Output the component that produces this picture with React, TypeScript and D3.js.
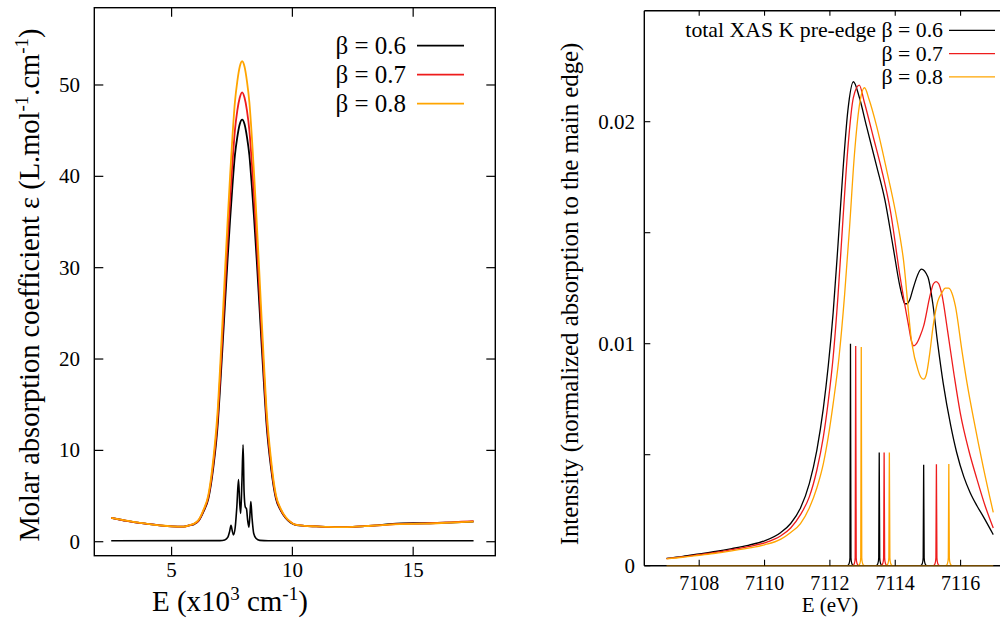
import React from "react";
import * as d3 from "d3";

// ---------- Left panel data (E in 10^3 cm^-1, epsilon) ----------
const leftE = [2.5, 3.0, 3.5, 4.0, 4.5, 5.0, 5.5, 5.72, 5.92, 6.12, 6.32, 6.52, 6.72, 6.92,
  7.02, 7.12, 7.22, 7.32, 7.42, 7.52, 7.62, 7.72, 7.82, 7.92, 8.02, 8.12, 8.22, 8.32, 8.42, 8.52, 8.62, 8.72, 8.82, 8.92,
  9.12, 9.32, 9.52, 9.72, 9.92, 10.12,
  10.5, 11, 11.5, 12, 12.5, 13, 13.5, 14, 14.5, 15, 15.5, 16, 16.5, 17, 17.5];
const leftB06 = [2.6, 2.35, 2.12, 1.95, 1.8, 1.68, 1.65, 1.78, 1.9, 2.3, 3.3, 4.7, 8.0, 13.2,
  17.4, 21.9, 26.5, 31.0, 35.2, 39.0, 42.3, 44.3, 45.7, 46.2, 45.7, 44.3, 42.3, 39.0, 35.2, 31.0, 26.5, 21.9, 17.4, 13.2,
  8.0, 4.7, 3.4, 2.6, 2.1, 1.85,
  1.74, 1.68, 1.62, 1.6, 1.62, 1.7, 1.8, 1.92, 2.0, 2.02, 2.02, 2.05, 2.1, 2.15, 2.2];
const leftB07 = [2.6, 2.35, 2.12, 1.95, 1.8, 1.68, 1.65, 1.79, 1.95, 2.34, 3.4, 4.9, 8.4, 14.0,
  18.5, 23.3, 28.2, 33.0, 37.4, 41.5, 45.0, 47.2, 48.6, 49.2, 48.6, 47.2, 45.0, 41.5, 37.4, 33.0, 28.2, 23.3, 18.5, 14.0,
  8.4, 4.9, 3.5, 2.65, 2.15, 1.86,
  1.74, 1.68, 1.62, 1.6, 1.62, 1.7, 1.78, 1.88, 1.95, 1.98, 2.0, 2.05, 2.12, 2.2, 2.25];
const leftB08 = [2.62, 2.37, 2.14, 1.96, 1.8, 1.68, 1.65, 1.8, 1.97, 2.4, 3.5, 5.1, 8.9, 14.9,
  19.7, 24.8, 30.1, 35.2, 40.0, 44.4, 48.1, 50.4, 52.0, 52.6, 52.0, 50.4, 48.1, 44.4, 40.0, 35.2, 30.1, 24.8, 19.7, 14.9,
  8.9, 5.1, 3.6, 2.7, 2.17, 1.87,
  1.74, 1.68, 1.62, 1.6, 1.62, 1.7, 1.78, 1.88, 1.93, 1.96, 1.98, 2.02, 2.08, 2.15, 2.2];
const spikeE = [2.5, 7.0, 7.2, 7.33, 7.4, 7.46, 7.51, 7.56, 7.63, 7.7, 7.77, 7.82, 7.86, 7.91, 7.96, 8.0, 8.05, 8.1, 8.15, 8.2, 8.24, 8.28, 8.33, 8.4, 8.5, 8.65, 9.0, 17.5];
const spikeV = [0.1, 0.12, 0.2, 0.5, 1.1, 1.8, 1.2, 0.75, 1.5, 3.8, 6.8, 4.2, 3.1, 6.5, 10.6, 5.5, 3.8, 3.6, 2.3, 1.6, 2.8, 4.4, 2.6, 0.9, 0.35, 0.15, 0.1, 0.1];
const leftXTicks = [5, 10, 15];
const leftYTicks = [0, 10, 20, 30, 40, 50];
const leftLabels = ["β = 0.6", "β = 0.7", "β = 0.8"];

// ---------- Right panel data (E in eV, intensity) ----------
const r06E = [7107, 7107.5, 7108, 7108.5, 7109, 7109.5, 7110, 7110.5, 7110.8, 7111.1, 7111.37, 7111.6, 7111.8, 7111.95, 7112.1, 7112.25, 7112.4, 7112.55, 7112.72, 7112.9, 7113.12, 7113.43, 7113.68, 7113.93, 7114.14, 7114.22, 7114.29, 7114.36, 7114.45, 7114.55, 7114.8, 7115.0, 7115.15, 7115.3, 7115.47, 7115.7, 7115.88, 7116.1, 7116.29, 7116.5, 7116.7, 7117];
const r06V = [0.00033, 0.00042, 0.00053, 0.00064, 0.00077, 0.00092, 0.00112, 0.0015, 0.0019, 0.0026, 0.0037, 0.0052, 0.0071, 0.009, 0.0114, 0.0145, 0.0178, 0.0205, 0.0218, 0.0211, 0.0198, 0.018, 0.0165, 0.0144, 0.0126, 0.0121, 0.0118, 0.0118, 0.012, 0.0125, 0.01336, 0.013, 0.0118, 0.01, 0.0082, 0.0063, 0.0051, 0.004, 0.0033, 0.0027, 0.0022, 0.0014];
const r07E = [7107, 7107.5, 7108, 7108.5, 7109, 7109.5, 7110, 7110.5, 7110.8, 7111.1, 7111.37, 7111.6, 7111.8, 7111.95, 7112.1, 7112.25, 7112.4, 7112.55, 7112.72, 7112.9, 7113.05, 7113.33, 7113.59, 7113.85, 7114.15, 7114.41, 7114.5, 7114.57, 7114.65, 7114.75, 7114.87, 7115.07, 7115.17, 7115.25, 7115.33, 7115.43, 7115.6, 7115.8, 7116.0, 7116.25, 7116.5, 7116.75, 7117];
const r07V = [0.00032, 0.0004, 0.0005, 0.0006, 0.00072, 0.00086, 0.00103, 0.00135, 0.0017, 0.0023, 0.0031, 0.0043, 0.0058, 0.0074, 0.0094, 0.0122, 0.0156, 0.0188, 0.0211, 0.02165, 0.0209, 0.0193, 0.0178, 0.016, 0.013, 0.0108, 0.0101, 0.0099, 0.01, 0.0103, 0.0108, 0.0122, 0.0127, 0.0128, 0.0127, 0.0122, 0.0106, 0.0086, 0.0068, 0.0052, 0.0039, 0.0027, 0.0017];
const r08E = [7107, 7107.5, 7108, 7108.5, 7109, 7109.5, 7110, 7110.5, 7110.8, 7111.1, 7111.37, 7111.6, 7111.8, 7111.95, 7112.1, 7112.28, 7112.45, 7112.6, 7112.75, 7112.9, 7113.06, 7113.2, 7113.43, 7113.74, 7114.0, 7114.25, 7114.51, 7114.7, 7114.78, 7114.87, 7114.95, 7115.05, 7115.16, 7115.3, 7115.43, 7115.53, 7115.63, 7115.73, 7115.84, 7116.04, 7116.2, 7116.4, 7116.7, 7117];
const r08V = [0.00031, 0.00038, 0.00047, 0.00056, 0.00067, 0.00079, 0.00094, 0.0012, 0.0015, 0.0019, 0.0026, 0.0035, 0.0046, 0.0058, 0.0073, 0.0094, 0.0122, 0.0152, 0.0185, 0.0207, 0.02153, 0.021, 0.0198, 0.0178, 0.016, 0.0138, 0.01, 0.0088, 0.0085, 0.0084, 0.0086, 0.0095, 0.0108, 0.0119, 0.0123, 0.0125, 0.0125, 0.0123, 0.0117, 0.0097, 0.0082, 0.0066, 0.0044, 0.0024];
const stick06E = [7112.63, 7113.51, 7114.87];
const stick06V = [0.0100, 0.0051, 0.00455];
const stick07E = [7112.79, 7113.66, 7115.26];
const stick07V = [0.0099, 0.0051, 0.00457];
const stick08E = [7112.96, 7113.82, 7115.64];
const stick08V = [0.00985, 0.0051, 0.00458];
const rightXTicks = [7108, 7110, 7112, 7114, 7116];
const rightYTicks = [0, 0.005, 0.01, 0.015, 0.02];
const rightYLabels = ["0", "", "0.01", "", "0.02"];
const rightLabels = ["total XAS K pre-edge β = 0.6", "β = 0.7", "β = 0.8"];

const COLORS = ["#000000", "#ee1c1c", "#ffa500"];
const FONT = "'Liberation Serif', 'DejaVu Serif', serif";

function zip(xs: number[], ys: number[]): [number, number][] {
  return xs.map((x, i) => [x, ys[i]]);
}

export default function App() {
  const lx = d3.scaleLinear().domain([1.8, 18.4]).range([94.3, 495.3]);
  const ly = d3.scaleLinear().domain([-1.53, 58.46]).range([555.7, 7.7]);
  const lline = d3.line<[number, number]>().x((d) => lx(d[0])).y((d) => ly(d[1])).curve(d3.curveMonotoneX);
  const leftSeries = [leftB06, leftB07, leftB08];

  const rx = d3.scaleLinear().domain([7106.32, 7117.5]).range([644.3, 1009.6]);
  const ry = d3.scaleLinear().domain([0, 0.025]).range([565.7, 10.7]);
  const rline = d3.line<[number, number]>().x((d) => rx(d[0])).y((d) => ry(d[1])).curve(d3.curveMonotoneX);
  const rightSeries = [zip(r06E, r06V), zip(r07E, r07V), zip(r08E, r08V)];
  const sticks = [zip(stick06E, stick06V), zip(stick07E, stick07V), zip(stick08E, stick08V)];

  const lTop = ly.range()[1], lBot = ly.range()[0], lLeft = lx.range()[0], lRight = lx.range()[1];
  const rTop = ry.range()[1], rBot = ry.range()[0], rLeft = rx.range()[0], rRight = rx.range()[1];

  return (
    <svg width={1000} height={618} style={{ position: "absolute", left: 0, top: 0, background: "#fff" }} fontFamily={FONT}>
      <rect x={0} y={0} width={1000} height={618} fill="#fff" />
      <g>
        {leftSeries.map((s, i) => (
          <path key={i} d={lline(zip(leftE, s)) || ""} fill="none" stroke={COLORS[i]} strokeWidth={1.8} />
        ))}
        <path d={lline(zip(spikeE, spikeV)) || ""} fill="none" stroke={COLORS[0]} strokeWidth={1.6} />
        <rect x={lLeft} y={lTop} width={lRight - lLeft} height={lBot - lTop} fill="none" stroke="#000" strokeWidth={1.4} />
        {leftXTicks.map((t) => (
          <g key={t}>
            <line x1={lx(t)} x2={lx(t)} y1={lBot} y2={lBot - 9} stroke="#000" strokeWidth={1.2} />
            <line x1={lx(t)} x2={lx(t)} y1={lTop} y2={lTop + 9} stroke="#000" strokeWidth={1.2} />
            <text x={lx(t)} y={577} textAnchor="middle" fontSize={21}>{t}</text>
          </g>
        ))}
        {leftYTicks.map((t) => (
          <g key={t}>
            <line x1={lLeft} x2={lLeft + 9} y1={ly(t)} y2={ly(t)} stroke="#000" strokeWidth={1.2} />
            <line x1={lRight} x2={lRight - 9} y1={ly(t)} y2={ly(t)} stroke="#000" strokeWidth={1.2} />
            <text x={80} y={ly(t) + 7} textAnchor="end" fontSize={21}>{t}</text>
          </g>
        ))}
        <text x={152} y={611} fontSize={29}>
          E (x10<tspan dy={-11} fontSize={19}>3</tspan><tspan dy={11}> cm</tspan><tspan dy={-11} fontSize={19}>-1</tspan><tspan dy={11}>)</tspan>
        </text>
        <text transform={`translate(39,285) rotate(-90)`} textAnchor="middle" fontSize={28.5}>
          Molar absorption coefficient ε (L.mol<tspan dy={-11} fontSize={19}>-1</tspan><tspan dy={11}>.cm</tspan><tspan dy={-11} fontSize={19}>-1</tspan><tspan dy={11}>)</tspan>
        </text>
        {leftLabels.map((lab, i) => {
          const y = 45.7 + i * 29;
          return (
            <g key={lab}>
              <text x={406} y={y + 8} textAnchor="end" fontSize={25}>{lab}</text>
              <line x1={417} x2={464} y1={y} y2={y} stroke={COLORS[i]} strokeWidth={1.8} />
            </g>
          );
        })}
      </g>

      <g>
        {rightSeries.map((s, i) => (
          <path key={i} d={rline(s) || ""} fill="none" stroke={COLORS[i]} strokeWidth={1.3} />
        ))}
        {sticks.map((s, i) => (
          <g key={i}>
            {s.map(([e, v], j) => {
              const x = rx(e);
              const yTop = ry(v);
              return (
                <path key={j}
                  d={`M${x - 3},${rBot} Q${x - 0.8},${rBot - 1} ${x - 0.5},${rBot - 8} L${x},${yTop} L${x + 0.5},${rBot - 8} Q${x + 0.8},${rBot - 1} ${x + 3},${rBot}`}
                  fill="none" stroke={COLORS[i]} strokeWidth={1.3} />
              );
            })}
          </g>
        ))}
        <line x1={rLeft} x2={rRight} y1={rTop} y2={rTop} stroke="#000" strokeWidth={1.4} />
        <line x1={rLeft} x2={rRight} y1={rBot} y2={rBot} stroke="#000" strokeWidth={1.4} />
        <line x1={rLeft} x2={rLeft} y1={rTop} y2={rBot} stroke="#000" strokeWidth={1.4} />
        <line x1={rx(7107)} x2={rx(7117)} y1={ry(0)} y2={ry(0)} stroke={COLORS[2]} strokeOpacity={0.45} strokeWidth={1.4} />
        {rightXTicks.map((t) => (
          <g key={t}>
            <line x1={rx(t)} x2={rx(t)} y1={rBot} y2={rBot - 6} stroke="#000" strokeWidth={1.1} />
            <line x1={rx(t)} x2={rx(t)} y1={rTop} y2={rTop + 5} stroke="#000" strokeWidth={1.1} />
            <text x={rx(t)} y={590} textAnchor="middle" fontSize={20}>{t}</text>
          </g>
        ))}
        {rightYTicks.map((t, i) => (
          <g key={t}>
            <line x1={rLeft} x2={rLeft + 6} y1={ry(t)} y2={ry(t)} stroke="#000" strokeWidth={1.1} />
            {rightYLabels[i] && (
              <text x={635} y={ry(t) + 7} textAnchor="end" fontSize={21}>{rightYLabels[i]}</text>
            )}
          </g>
        ))}
        <text x={830} y={612} textAnchor="middle" fontSize={21}>E (eV)</text>
        <text transform={`translate(578,294) rotate(-90)`} textAnchor="middle" fontSize={24.8}>
          Intensity (normalized absorption to the main edge)
        </text>
        {rightLabels.map((lab, i) => {
          const y = 30.3 + i * 23.3;
          return (
            <g key={lab}>
              <text x={943} y={y + 7} textAnchor="end" fontSize={21.8}>{lab}</text>
              <line x1={949} x2={995} y1={y} y2={y} stroke={COLORS[i]} strokeWidth={1.3} />
            </g>
          );
        })}
      </g>
    </svg>
  );
}
